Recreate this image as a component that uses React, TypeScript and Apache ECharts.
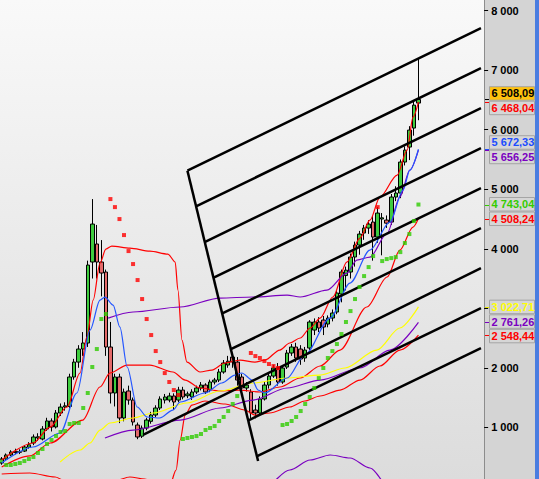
import React, { useEffect, useRef } from 'react';
import * as echarts from 'echarts';

// ---------- data ----------
const CATEGORY_COUNT = 107;
const categories: string[] = Array.from({ length: CATEGORY_COUNT }, (_, i) => String(i + 1));

// [open, close, low, high]
const ohlc: number[][] = [
  [400, 467, 370, 500], [467, 534, 440, 560], [534, 585, 515, 615], [575, 595, 545, 640],
  [590, 580, 550, 630], [600, 669, 585, 700], [665, 705, 640, 750], [736, 837, 700, 880],
  [820, 840, 770, 900], [803, 971, 780, 1020], [971, 1106, 940, 1160], [1106, 1005, 930, 1150],
  [1005, 1240, 980, 1290], [1240, 1340, 1190, 1400], [1340, 1360, 1280, 1420], [1350, 1845, 1320, 1900],
  [1845, 2096, 1800, 2150], [2096, 2315, 2000, 2380], [2315, 2416, 2200, 2600], [2416, 3726, 2350, 3800],
  [3777, 4415, 3500, 4835], [4080, 3777, 3500, 4400], [3777, 3592, 3200, 4146], [3609, 2349, 2200, 3650],
  [2349, 1576, 1400, 2770], [1576, 1845, 1350, 1900], [1845, 1156, 1070, 1900], [1156, 1593, 1100, 1650],
  [1610, 1458, 1380, 1700], [1458, 1089, 1030, 1500], [1038, 837, 800, 1080], [850, 987, 820, 1030],
  [987, 1122, 950, 1160], [1100, 1206, 1060, 1260], [1206, 1324, 1170, 1370], [1324, 1475, 1290, 1520],
  [1458, 1509, 1400, 1560], [1458, 1526, 1420, 1580], [1526, 1425, 1290, 1570], [1458, 1626, 1420, 1680],
  [1626, 1509, 1470, 1680], [1530, 1560, 1490, 1600], [1509, 1593, 1460, 1640], [1593, 1660, 1560, 1700],
  [1660, 1710, 1620, 1760], [1710, 1593, 1560, 1740], [1626, 1761, 1590, 1800], [1761, 1794, 1720, 1830],
  [1794, 1929, 1760, 1980], [1929, 2080, 1900, 2130], [2046, 2110, 2000, 2200], [2180, 2100, 2000, 2250],
  [2096, 1794, 1700, 2180], [1845, 1660, 1600, 1900], [1660, 1710, 1600, 1760], [1593, 1240, 1150, 1640],
  [1290, 1240, 1150, 1380], [1240, 1476, 1200, 1520], [1476, 1710, 1450, 1760], [1710, 1861, 1650, 1900],
  [1861, 1996, 1830, 2050], [1996, 1761, 1700, 2080], [1761, 1996, 1730, 2040], [2012, 2248, 1980, 2300],
  [2248, 2349, 2200, 2400], [2349, 2164, 2100, 2420], [2315, 2147, 2050, 2380], [2164, 2298, 2100, 2350],
  [2332, 2769, 2300, 2800], [2634, 2769, 2550, 2830], [2769, 2668, 2600, 2850], [2802, 2685, 2550, 2870],
  [2735, 2836, 2680, 2880], [2836, 2920, 2780, 2980], [2937, 3256, 2900, 3300], [3239, 3609, 3100, 3650],
  [3550, 3640, 3300, 3700], [3609, 3861, 3500, 3920], [3861, 4062, 3700, 4120], [4062, 4247, 3900, 4300],
  [4264, 4348, 4150, 4400], [4348, 4415, 4250, 4480], [4449, 4197, 3800, 4550], [4197, 4600, 4100, 4700],
  [4500, 4520, 3890, 4600], [4482, 4430, 4350, 4560], [4449, 4869, 4400, 4920], [4869, 4936, 4800, 5050],
  [4936, 5457, 4850, 5500], [5457, 5658, 5400, 5720], [5709, 5994, 5490, 6060], [6028, 6414, 5900, 6470],
  [6448, 6508.09, 6160, 7205],
];

// [bar index, value]
const upperBand: number[][] = [
  [0, 450], [6.9, 736], [10.7, 1004], [14.4, 1341], [17.3, 1912], [18.8, 2517], [20.2, 3138], [21.7, 3760],
  [23, 3995], [24.3, 4045], [28.3, 4012], [32.7, 3961], [36.7, 3911], [38.3, 3777], [38.9, 3306], [39.8, 2466],
  [40.9, 2096], [43.8, 1929], [46.4, 1962], [49.3, 2080], [52.6, 2130], [55.9, 2096], [58.1, 2130], [61.4, 2298],
  [63.6, 2416], [65.9, 2500], [68.1, 2668], [70.3, 2836], [73.1, 3189], [76.2, 3777], [79.1, 4180], [81.3, 4482],
  [83.5, 4869], [87.3, 5238], [89.5, 5658], [90.8, 6213], [92, 6468.04],
];
const middleBand: number[][] = [
  [0, 333], [6.2, 518], [10.7, 736], [17.9, 1122], [21.7, 1677], [23.9, 1912], [27.7, 2046], [32.7, 2046],
  [37.8, 1929], [40.5, 1794], [43.8, 1660], [48.2, 1610], [52.6, 1626], [57, 1593], [61.4, 1677], [65.9, 1828],
  [70.3, 2030], [74.7, 2298], [80.6, 3021], [85.1, 3525], [87.9, 3978], [90.8, 4365], [92, 4508.24],
];
const lowerBand: number[][] = [
  [0, 215], [6.2, 232], [11.8, 165], [15.1, 47], [21.7, 0], [24.8, 97], [28.3, 165], [31.6, 131], [34.9, 0],
  [37.2, 47], [38.5, 282], [39.4, 786], [40.5, 1206], [42, 1374], [44.9, 1442], [49.3, 1391], [53.7, 1290],
  [55.9, 1206], [59.2, 1240], [63.6, 1341], [66.9, 1442], [70.3, 1526], [74.7, 1626], [79.1, 1794], [83.5, 2030],
  [87.9, 2298], [92, 2548.44],
];
const blueLine: number[][] = [
  [0, 400], [6.9, 669], [12.9, 904], [16.6, 1576], [19.5, 2634], [21.7, 3138], [22.8, 3188], [24.6, 3054],
  [26.1, 2684], [27.7, 2013], [29.9, 1341], [32.1, 1173], [34.9, 1156], [37.8, 1290], [39.4, 1425], [44.9, 1576],
  [48.6, 1744], [51.5, 1878], [53, 1912], [55.3, 1794], [56.6, 1626], [58.1, 1576], [63, 1828], [66.9, 2214],
  [72.5, 2836], [76.9, 3424], [81.3, 3978], [85.7, 4449], [88.6, 4986], [90.1, 5322], [92, 5672.33],
];
const purpleUpper: number[][] = [
  [23.5, 2835], [29, 2937], [39.4, 3021], [48.2, 3172], [55.5, 3189], [63, 3222], [65.9, 3189], [71.8, 3306],
  [76.2, 3592], [78.4, 3810], [81.3, 3861], [85.1, 4264], [87.9, 4869], [90.1, 5322], [92, 5656.25],
];
const yellowLine: number[][] = [
  [12.9, 417], [17.3, 618], [19.5, 736], [21.7, 954], [23.9, 1072], [29, 1156], [33.4, 1240], [40.9, 1408],
  [48.2, 1610], [55.5, 1744], [63, 1828], [70.3, 1878], [75.8, 1996], [82.8, 2298], [87.9, 2668], [92, 3022.71],
];
const purpleLower: number[][] = [
  [22.8, 820], [29, 954], [39.4, 1122], [48.2, 1324], [55.5, 1458], [63, 1660], [70.3, 1794], [79.1, 1996],
  [85.7, 2298], [92, 2761.26],
];
const purpleBottom: number[][] = [
  [59.2, 5], [63.6, 282], [68.1, 450], [72.5, 534], [76.9, 484], [81.3, 316], [84.6, 13],
];

const sarUp: number[][] = [
  [1, 366], [2, 366], [3, 383], [4, 400], [5, 433], [6, 467], [7, 501], [8, 568], [9, 635], [10, 719],
  [11, 786], [12, 853], [13, 921], [14, 938], [15, 1055], [16, 1072], [17, 1072], [18, 1324], [19, 1576],
  [20, 2013], [21, 2315], [22, 2819], [23, 2903],
  [40, 803], [41, 820], [42, 837], [43, 853], [44, 887], [45, 954], [46, 988], [47, 1021], [48, 1106],
  [49, 1173], [50, 1273], [51, 1391], [52, 1525],
  [62, 1038], [63, 1055], [64, 1106], [65, 1173], [66, 1273], [67, 1391], [68, 1509], [69, 1660], [70, 1827],
  [71, 1996], [72, 2164], [73, 2281], [74, 2399], [75, 2567], [76, 2769], [77, 2953], [78, 3155], [79, 3357],
  [80, 3541], [81, 3692], [82, 3877],
  [84, 3793], [85, 3827], [86, 3843], [87, 3860], [88, 3944], [89, 4096], [90, 4247], [91, 4465], [92, 4743.04],
];
const sarDown: number[][] = [
  [24, 4835], [25, 4700], [26, 4499], [27, 4230], [28, 3961], [29, 3743], [30, 3474], [31, 3155], [32, 2819],
  [33, 2550], [34, 2281], [35, 2096], [36, 1911], [37, 1761], [38, 1626], [39, 1542],
  [55, 2248], [56, 2197], [57, 2164], [58, 2113], [59, 2063], [60, 2029], [61, 1996],
  [83, 4700],
];

// pitchfork: spine and parallel tines ([start], [end]) in [bar index, value]
const forkSpine: number[][] = [[41.0, 5312], [56.6, 433]];
const forkTines: number[][][] = [
  [[41.0, 5312], [105.8, 7708]],
  [[42.9, 4712], [105.8, 7036]],
  [[44.8, 4113], [105.8, 6364]],
  [[46.8, 3513], [105.8, 5692]],
  [[48.7, 2913], [105.8, 5020]],
  [[50.6, 2313], [105.8, 4348]],
  [[31.2, 871], [105.8, 3676]],
  [[54.4, 1114], [105.8, 3004]],
  [[56.4, 514], [105.8, 2332]],
];

// last-value tags
const tagValues = [6508.09, 6468.04, 5672.33, 5656.25, 4743.04, 4508.24, 3022.71, 2761.26, 2548.44];
const tagTextColors = ['#000000', '#ff0000', '#1a4cff', '#7a00c0', '#33cc00', '#ff0000', '#ffff00', '#7a00c0', '#ff0000'];
const tagFills = ['#ffc20e', '#d6d6d6', '#d6d6d6', '#d6d6d6', '#d6d6d6', '#d6d6d6', '#d6d6d6', '#d6d6d6', '#d6d6d6'];

// ---------- helpers ----------
const groupThousands = (s: string) => s.replace(/\B(?=(\d{3})+(?!\d))/g, ' ');
const fmtTag = (v: number) => {
  const [a, b] = v.toFixed(2).split('.');
  return groupThousands(a) + ',' + b;
};

const RED = '#ff0000';
const BLUE = '#2456ff';
const PURPLE = '#7a00c0';
const YELLOW = '#ffff00';

function lineSeries(data: number[][], color: string, width = 1.2, z = 3) {
  return {
    type: 'line',
    xAxisIndex: 1,
    yAxisIndex: 0,
    data,
    showSymbol: false,
    symbol: 'none',
    smooth: 0.3,
    smoothMonotone: 'x',
    lineStyle: { color, width },
    z,
    silent: true,
  };
}

export default function App() {
  const ref = useRef<HTMLDivElement>(null);

  useEffect(() => {
    if (!ref.current) return;
    const chart = echarts.init(ref.current, null, { renderer: 'svg', width: 539, height: 479 });

    const series: any[] = [
      {
        type: 'candlestick',
        xAxisIndex: 0,
        yAxisIndex: 0,
        data: ohlc,
        barWidth: 4,
        z: 1,
        itemStyle: {
          color: '#3fcc3f',
          color0: '#e46a6a',
          borderColor: '#000000',
          borderColor0: '#000000',
          borderWidth: 1,
        },
      },
      lineSeries(lowerBand, RED),
      lineSeries(middleBand, RED),
      lineSeries(upperBand, RED),
      lineSeries(yellowLine, YELLOW),
      lineSeries(purpleLower, PURPLE),
      lineSeries(purpleBottom, PURPLE),
      lineSeries(purpleUpper, PURPLE),
      lineSeries(blueLine, BLUE),
      {
        type: 'line', xAxisIndex: 1, yAxisIndex: 0, data: forkSpine, showSymbol: false, symbol: 'none',
        lineStyle: { color: '#000', width: 2.5 }, z: 4, silent: true,
      },
      ...forkTines.map((t) => ({
        type: 'line', xAxisIndex: 1, yAxisIndex: 0, data: t, showSymbol: false, symbol: 'none',
        lineStyle: { color: '#000', width: 2.5 }, z: 4, silent: true,
      })),
      {
        type: 'scatter', xAxisIndex: 1, yAxisIndex: 0, data: sarUp, symbol: 'rect', symbolSize: 4,
        itemStyle: { color: '#2ecc00' }, z: 5, silent: true,
      },
      {
        type: 'scatter', xAxisIndex: 1, yAxisIndex: 0, data: sarDown, symbol: 'rect', symbolSize: 4,
        itemStyle: { color: '#ff0000' }, z: 5, silent: true,
      },
    ];

    const hiddenTicks: number[] = [];
    const yLabelFormatter = (v: number) => {
      if (v % 1000 !== 0 || v === 0) return '';
      if (hiddenTicks.indexOf(v) >= 0) return '';
      return groupThousands(String(v));
    };

    chart.setOption({
      animation: false,
      backgroundColor: 'transparent',
      grid: {
        left: -0.57, top: 0, width: 484.7, height: 486.8,
        containLabel: false, outerBoundsMode: 'none',
      },
      xAxis: [
        { type: 'category', data: categories, boundaryGap: true, show: false, gridIndex: 0 },
        { type: 'value', min: -0.5, max: CATEGORY_COUNT - 0.5, show: false, gridIndex: 0 },
      ],
      yAxis: {
        type: 'value',
        position: 'right',
        min: 0,
        max: 8180,
        interval: 1000,
        splitLine: { show: false },
        axisLine: { show: true, onZero: false, lineStyle: { color: '#8c8c8c', width: 1 } },
        axisTick: { show: true, length: 4, lineStyle: { color: '#000' } },
        axisLabel: {
          color: '#000',
          fontWeight: 'bold',
          fontSize: 11,
          fontFamily: '"Liberation Sans", Arial, sans-serif',
          margin: 7,
          showMaxLabel: false,
          formatter: yLabelFormatter,
        },
      },
      series,
    });

    // tag layout (avoid overlaps)
    const H = 14.5;
    const items = tagValues
      .map((v, i) => ({ i, y: chart.convertToPixel({ yAxisIndex: 0 }, v) as number }))
      .sort((a, b) => a.y - b.y);
    let groups = items.map((it) => ({ members: [it], center: it.y }));
    let changed = true;
    while (changed) {
      changed = false;
      for (let g = 0; g < groups.length - 1; g++) {
        const a = groups[g];
        const b = groups[g + 1];
        const aBottom = a.center + (a.members.length * H) / 2;
        const bTop = b.center - (b.members.length * H) / 2;
        if (aBottom > bTop) {
          const members = a.members.concat(b.members);
          const mean = members.reduce((s, m) => s + m.y, 0) / members.length;
          groups.splice(g, 2, { members, center: mean });
          changed = true;
          break;
        }
      }
    }
    const placed: { i: number; y: number; cy: number }[] = [];
    groups.forEach((g) => {
      const top = g.center - (g.members.length * H) / 2;
      g.members.forEach((m, k) => placed.push({ i: m.i, y: m.y, cy: top + H * (k + 0.5) }));
    });

    // hide axis labels covered by tags
    for (let v = 0; v <= 8000; v += 1000) {
      const py = chart.convertToPixel({ yAxisIndex: 0 }, v) as number;
      if (placed.some((p) => Math.abs(p.cy - py) < H / 2 + 4)) hiddenTicks.push(v);
    }

    const graphic: any[] = [];
    placed.forEach((p) => {
      graphic.push({
        type: 'line', z: 50, silent: true,
        shape: { x1: 485, y1: Math.round(p.y) + 0.5, x2: 489.5, y2: Math.round(p.y) + 0.5 },
        style: { stroke: tagTextColors[p.i] === '#ffff00' ? '#e8e800' : tagTextColors[p.i], lineWidth: 1 },
      });
      graphic.push({
        type: 'rect', z: 50, silent: true,
        shape: { x: 489.5, y: p.cy - 6.75, width: 45, height: 13.5 },
        style: { fill: tagFills[p.i], stroke: '#a4a4a4', lineWidth: 1 },
      });
      graphic.push({
        type: 'text', z: 51, silent: true,
        x: 491.5, y: p.cy,
        style: {
          text: fmtTag(tagValues[p.i]),
          fill: tagTextColors[p.i],
          font: 'bold 11px "Liberation Sans", Arial, sans-serif',
          verticalAlign: 'middle',
          align: 'left',
        },
      });
    });

    chart.setOption({
      yAxis: { axisLabel: { formatter: yLabelFormatter } },
      graphic,
    });

    return () => chart.dispose();
  }, []);

  return (
    <div style={{ position: 'fixed', left: 0, top: 0, width: 539, height: 479, overflow: 'hidden' }}>
      <div style={{ position: 'absolute', left: 0, top: 0, width: 485, height: 479, background: 'linear-gradient(#f9f9f9, #dcdcdc)' }} />
      <div style={{ position: 'absolute', left: 485, top: 0, width: 50, height: 479, background: '#d4d4d4' }} />
      <div style={{ position: 'absolute', left: 535, top: 0, width: 4, height: 479, background: '#4a7de0' }} />
      <div ref={ref} style={{ position: 'absolute', left: 0, top: 0, width: 539, height: 479 }} />
    </div>
  );
}
